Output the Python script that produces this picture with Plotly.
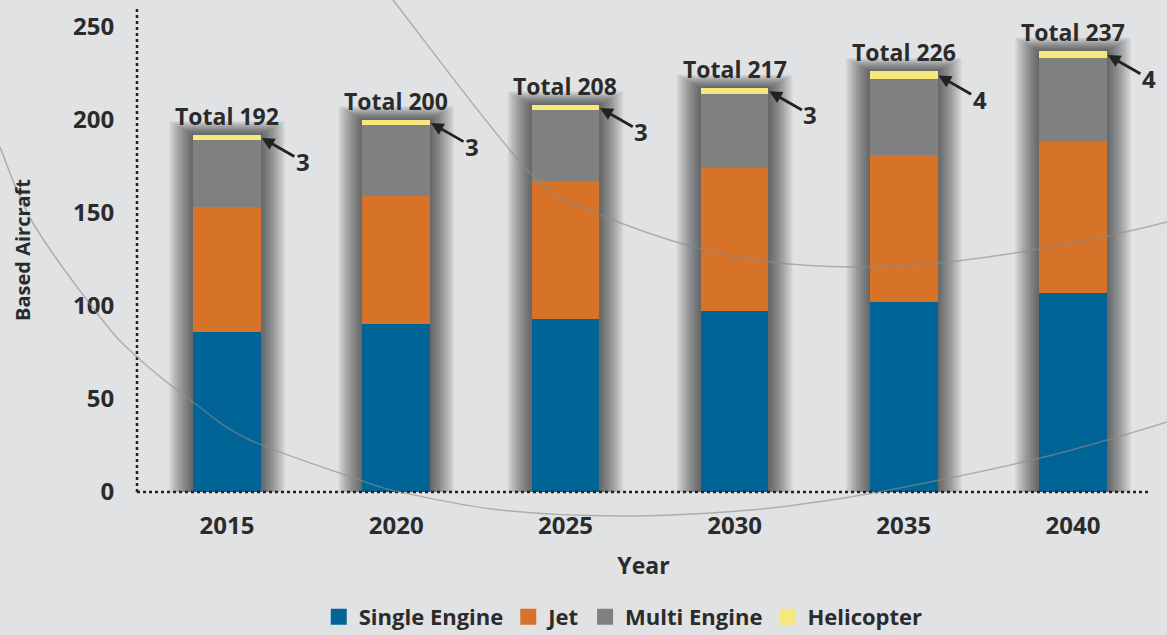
import plotly.graph_objects as go

years = ["2015", "2020", "2025", "2030", "2035", "2040"]
single_engine = [86, 90, 93, 97, 102, 107]
jet = [67, 69, 74, 77, 79, 81]
multi_engine = [36, 38, 38, 40, 41, 45]
helicopter = [3, 3, 3, 3, 4, 4]
totals = [192, 200, 208, 217, 226, 237]

series_names = ["Single Engine", "Jet", "Multi Engine", "Helicopter"]
series_colors = ["#006496", "#d77229", "#808080", "#f7e87c"]

BG = "#e1e2e4"
TXT = "#2b2b2b"
FONT = "Open Sans"

# plot-area geometry (pixels) used to place decorative items in paper coords
L, R, T, B = 137, 1150, 8, 492
W, H = R - L, B - T


def px(x):
    return (x - L) / W


def py(y):
    return (B - y) / H


def bold(size):
    return dict(family=FONT, size=size, color=TXT, weight="bold")


fig = go.Figure()
for name, vals, col in zip(series_names, [single_engine, jet, multi_engine, helicopter], series_colors):
    fig.add_trace(go.Bar(x=years, y=vals, name=name, marker=dict(color=col, line=dict(width=0)),
                         width=0.4, showlegend=False, hoverinfo="y+name"))
    # legend proxy with a bigger square symbol
    fig.add_trace(go.Scatter(x=[None], y=[None], mode="markers", name=name,
                             marker=dict(symbol="square", size=16, color=col), showlegend=True))

shapes = []
# soft shadows around each bar
N = 12
for i, tot in enumerate(totals):
    for k in range(1, N + 1):
        dx = k * 2 / 169.2
        dy = k * 0.6
        shapes.append(dict(type="rect", xref="x", yref="y", x0=i - 0.2 - dx, x1=i + 0.2 + dx,
                           y0=-dy, y1=tot + dy, fillcolor="rgba(0,0,0,0.06)",
                           line=dict(width=0), layer="below"))

# dotted axes
shapes.append(dict(type="line", xref="paper", yref="paper", x0=0, x1=0, y0=0, y1=1,
                   line=dict(color="#222", width=2.5, dash="dot"), layer="above"))
shapes.append(dict(type="line", xref="paper", yref="paper", x0=0, x1=1, y0=0, y1=0,
                   line=dict(color="#222", width=2.5, dash="dot"), layer="above"))


# decorative background arcs
def smooth_path(pts):
    d = "M {:.5f},{:.5f}".format(px(pts[0][0]), py(pts[0][1]))
    for j in range(len(pts) - 1):
        p0 = pts[j - 1] if j > 0 else pts[j]
        p1 = pts[j]
        p2 = pts[j + 1]
        p3 = pts[j + 2] if j + 2 < len(pts) else pts[j + 1]
        c1 = (p1[0] + (p2[0] - p0[0]) / 6, p1[1] + (p2[1] - p0[1]) / 6)
        c2 = (p2[0] - (p3[0] - p1[0]) / 6, p2[1] - (p3[1] - p1[1]) / 6)
        d += " C {:.5f},{:.5f} {:.5f},{:.5f} {:.5f},{:.5f}".format(
            px(c1[0]), py(c1[1]), px(c2[0]), py(c2[1]), px(p2[0]), py(p2[1]))
    return d


arc_a = [(393, 0), (530, 173), (597, 213), (697, 248), (780, 263), (867, 267),
         (940, 263), (1033, 250), (1107, 236), (1167, 222)]
arc_b = [(0, 147), (33, 223), (100, 317), (137, 357), (193, 402), (250, 440), (360, 480),
         (400, 492), (500, 510), (620, 516), (750, 510), (850, 497), (940, 480),
         (1040, 458), (1107, 440), (1167, 422)]
for arc in (arc_a, arc_b):
    shapes.append(dict(type="path", xref="paper", yref="paper", path=smooth_path(arc),
                       line=dict(color="rgba(140,140,140,0.6)", width=1.5), layer="above"))

annotations = []
for i, (tot, h) in enumerate(zip(totals, helicopter)):
    annotations.append(dict(x=i, y=tot, xref="x", yref="y", text="Total %d" % tot,
                            showarrow=False, yanchor="bottom", yshift=1, font=bold(23)))
    annotations.append(dict(x=i + 0.2, y=tot - h / 2, xref="x", yref="y", text="%d" % h,
                            showarrow=True, ax=42, ay=24, arrowhead=2, arrowsize=0.9,
                            arrowwidth=2.8, arrowcolor="#222", standoff=1, font=bold(24)))

fig.update_layout(
    width=1167, height=635,
    margin=dict(l=L, r=1167 - R, t=T, b=635 - B, autoexpand=False),
    paper_bgcolor=BG, plot_bgcolor=BG,
    barmode="stack",
    font=dict(family=FONT, color=TXT),
    shapes=shapes, annotations=annotations,
    legend=dict(orientation="h", x=0.48, y=-0.258, xanchor="center", yanchor="middle",
                font=bold(22), bgcolor="rgba(0,0,0,0)",
                itemsizing="trace", traceorder="normal"),
    xaxis=dict(type="category", range=[-0.532, 5.455], showgrid=False, zeroline=False,
               showline=False, ticks="outside", ticklen=12, tickcolor="rgba(0,0,0,0)",
               tickfont=bold(24), automargin=False,
               title=dict(text="Year", font=bold(23), standoff=18)),
    yaxis=dict(range=[0, 260], tickvals=[0, 50, 100, 150, 200, 250], showgrid=False,
               zeroline=False, showline=False, ticks="outside", ticklen=17,
               tickcolor="rgba(0,0,0,0)", tickfont=bold(24), automargin=False,
               title=dict(text="Based Aircraft", font=bold(20), standoff=37)),
)

fig.write_html("out.html", config={"displayModeBar": False},
               post_script="document.body.style.margin='0';document.body.style.padding='0';")
